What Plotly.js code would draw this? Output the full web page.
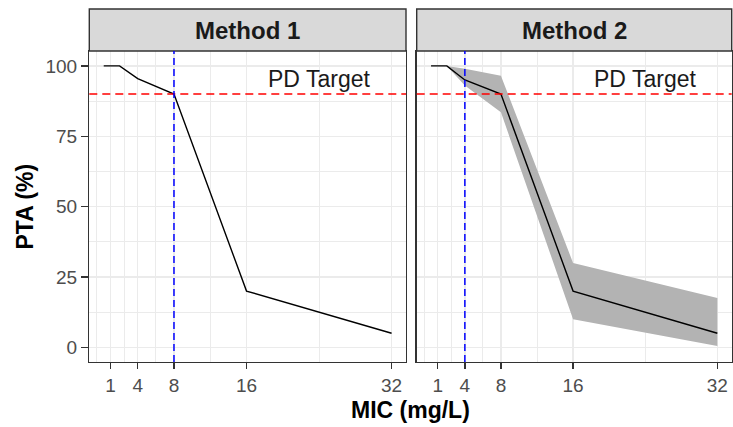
<!DOCTYPE html>
<html>
<head>
<meta charset="utf-8">
<script src="https://cdn.plot.ly/plotly-3.0.1.min.js"></script>
<style>
  html, body { margin: 0; padding: 0; background: #ffffff; }
  #chart { width: 733px; height: 427px; }
</style>
</head>
<body>
<div id="chart"></div>
<script>
// MIC values (mg/L) and probability of target attainment (%)
const mic = [0.25, 0.5, 1, 2, 4, 8, 16, 32];
const ptaMethod1 = [100, 100, 100, 100, 95.5, 90, 20, 5];
const ptaMethod2 = [100, 100, 100, 100, 95, 90, 20, 5];
const ptaMethod2Lower = [100, 100, 100, 100, 93, 83.5, 10, 0.5];
const ptaMethod2Upper = [100, 100, 100, 100, 99, 96.5, 30, 17.5];

const panelTitles = ['Method 1', 'Method 2'];
const breakpoints = [8, 4];          // PK/PD breakpoint per method
const pdTarget = 90;                 // target attainment level (%)
const targetLabel = 'PD Target';
const targetLabelPos = [24, 95.5];

const xTicks = [1, 4, 8, 16, 32];
const xMinor = [-0.5, 2.5, 6, 12, 24];
const yTicks = [0, 25, 50, 75, 100];
const yMinor = [12.5, 37.5, 62.5, 87.5];

// Pixel layout of the two facets inside the 733 x 427 canvas
const W = 733, H = 427;
const px = v => v / W;
const py = v => 1 - v / H;
const panels = [[89.3, 406], [416.7, 731.7]];
const panelTop = 51, panelBottom = 362, stripTop = 9;

const font = '"Liberation Sans", Arial, sans-serif';
const dark = '#333333';
const gridCol = '#EBEBEB';

const xRange = [-1.34, 33.59];
const yRange = [-5.2, 105.3];

function xAxis(i, anchor) {
  return {
    domain: [px(panels[i][0]), px(panels[i][1])],
    anchor: anchor,
    range: xRange,
    tickmode: 'array', tickvals: xTicks, ticktext: xTicks.map(String),
    ticks: 'outside', ticklen: 6, tickwidth: 1.3, tickcolor: dark,
    tickfont: { family: font, size: 19, color: '#4D4D4D' },
    showgrid: true, gridcolor: gridCol, gridwidth: 1.3,
    minor: { tickmode: 'array', tickvals: xMinor, showgrid: true, gridcolor: gridCol, gridwidth: 1, ticks: '' },
    showline: true, linecolor: dark, linewidth: 1.4, mirror: true,
    zeroline: false, fixedrange: true
  };
}
function yAxis(anchor, showLabels) {
  return {
    domain: [py(panelBottom), py(panelTop)],
    anchor: anchor,
    range: yRange,
    tickmode: 'array', tickvals: yTicks, ticktext: yTicks.map(String),
    showticklabels: showLabels,
    ticks: showLabels ? 'outside' : '', ticklen: 7, tickwidth: 1.3, tickcolor: dark,
    tickfont: { family: font, size: 19, color: '#4D4D4D' },
    showgrid: true, gridcolor: gridCol, gridwidth: 1.3,
    minor: { tickmode: 'array', tickvals: yMinor, showgrid: true, gridcolor: gridCol, gridwidth: 1, ticks: '' },
    showline: true, linecolor: dark, linewidth: 1.4, mirror: true,
    zeroline: false, fixedrange: true
  };
}

const traces = [
  // Method 1 median PTA curve
  { x: mic, y: ptaMethod1, xaxis: 'x', yaxis: 'y', mode: 'lines',
    line: { color: '#000000', width: 1.4 }, hoverinfo: 'skip', showlegend: false },
  // Method 2 uncertainty band
  { x: mic, y: ptaMethod2Lower, xaxis: 'x2', yaxis: 'y2', mode: 'lines',
    line: { width: 0, color: 'rgba(0,0,0,0)' }, hoverinfo: 'skip', showlegend: false },
  { x: mic, y: ptaMethod2Upper, xaxis: 'x2', yaxis: 'y2', mode: 'lines', fill: 'tonexty',
    fillcolor: '#B3B3B3', line: { width: 0, color: 'rgba(0,0,0,0)' }, hoverinfo: 'skip', showlegend: false },
  // Method 2 median PTA curve
  { x: mic, y: ptaMethod2, xaxis: 'x2', yaxis: 'y2', mode: 'lines',
    line: { color: '#000000', width: 1.4 }, hoverinfo: 'skip', showlegend: false }
];

const shapes = [];
const annotations = [];
const axisIds = [['x', 'y'], ['x2', 'y2']];

panels.forEach((p, i) => {
  const [xa, ya] = axisIds[i];
  // facet strip
  shapes.push({ type: 'rect', xref: 'paper', yref: 'paper',
    x0: px(p[0]), x1: px(p[1]), y0: py(panelTop), y1: py(stripTop),
    fillcolor: '#D9D9D9', line: { color: dark, width: 1.4 }, layer: 'above' });
  annotations.push({ xref: 'paper', yref: 'paper', x: px((p[0] + p[1]) / 2), y: py(30.5),
    text: '<b>' + panelTitles[i] + '</b>', showarrow: false, xanchor: 'center', yanchor: 'middle',
    font: { family: font, size: 24, color: '#1A1A1A' } });
  // PD target line
  shapes.push({ type: 'line', xref: xa + ' domain', yref: ya, x0: 0, x1: 1, y0: pdTarget, y1: pdTarget,
    line: { color: '#FF0000', width: 1.5, dash: '8px,5px' }, layer: 'above' });
  // breakpoint line
  shapes.push({ type: 'line', xref: xa, yref: ya + ' domain', x0: breakpoints[i], x1: breakpoints[i], y0: 0, y1: 1,
    line: { color: '#0000FF', width: 1.5, dash: '7px,4px' }, layer: 'above' });
  annotations.push({ xref: xa, yref: ya, x: targetLabelPos[0], y: targetLabelPos[1],
    text: targetLabel, showarrow: false, xanchor: 'center', yanchor: 'middle',
    font: { family: font, size: 23, color: '#1A1A1A' } });
});

// axis titles
annotations.push({ xref: 'paper', yref: 'paper', x: px((panels[0][0] + panels[1][1]) / 2), y: py(410),
  text: '<b>MIC (mg/L)</b>', showarrow: false, xanchor: 'center', yanchor: 'middle',
  font: { family: font, size: 23, color: '#000000' } });
annotations.push({ xref: 'paper', yref: 'paper', x: px(24), y: py((panelTop + panelBottom) / 2),
  text: '<b>PTA (%)</b>', showarrow: false, textangle: -90, xanchor: 'center', yanchor: 'middle',
  font: { family: font, size: 23, color: '#000000' } });

const layout = {
  width: W, height: H,
  margin: { l: 0, r: 0, t: 0, b: 0 },
  paper_bgcolor: '#FFFFFF', plot_bgcolor: '#FFFFFF',
  showlegend: false,
  font: { family: font },
  xaxis: xAxis(0, 'y'),
  yaxis: yAxis('x', true),
  xaxis2: xAxis(1, 'y2'),
  yaxis2: yAxis('x2', false),
  shapes: shapes,
  annotations: annotations
};

Plotly.newPlot('chart', traces, layout, { displayModeBar: false, staticPlot: true });
</script>
</body>
</html>
